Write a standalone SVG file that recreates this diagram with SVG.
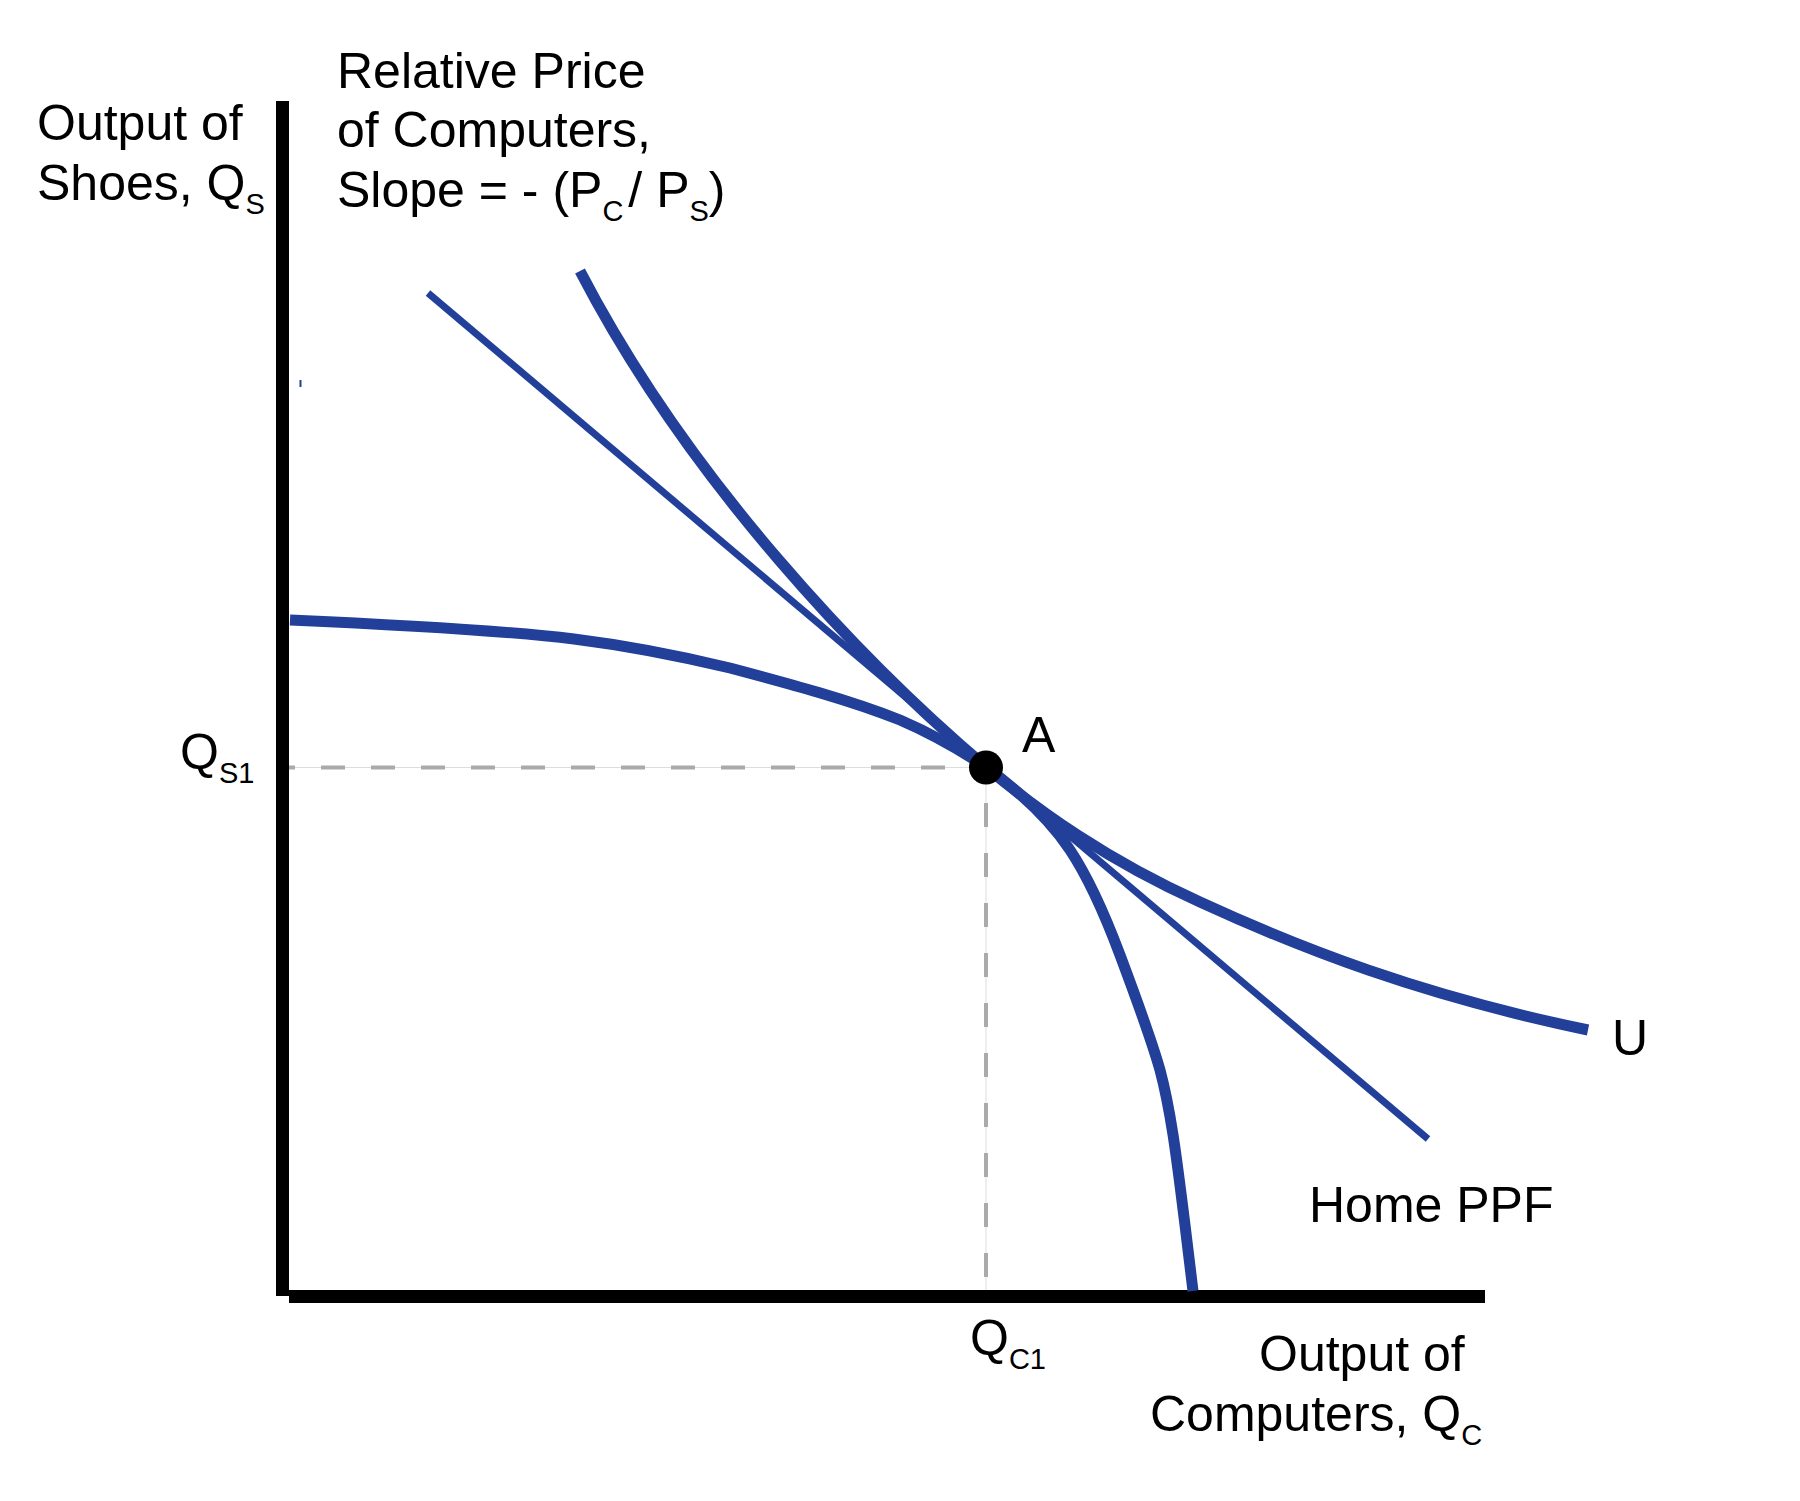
<svg xmlns="http://www.w3.org/2000/svg" width="1800" height="1501" viewBox="0 0 1800 1501">
<style>
text{font-family:"Liberation Sans",Arial,Helvetica,sans-serif;font-size:50px;fill:#000}
.sub{font-size:29px}
.curve{fill:none;stroke:#223f99;stroke-linecap:butt;stroke-linejoin:round}
.thick{stroke-width:11}
.thin{stroke-width:7}
.guide{fill:none;stroke:#dddddd;stroke-width:1}
.dash{fill:none;stroke:#aaaaaa;stroke-width:4;stroke-dasharray:24 26}
</style>
<rect width="1800" height="1501" fill="#ffffff"/>
<g id="axes">
<rect x="276" y="101" width="13" height="1195" fill="#000"/>
<rect x="289" y="1290" width="1196" height="13" fill="#000"/>
<rect x="299.5" y="380" width="2" height="7" fill="#223f99"/>
</g>
<g id="guides">
<line class="guide" x1="289" y1="767.5" x2="986" y2="767.5"/>
<line class="guide" x1="986" y1="767.5" x2="986" y2="1290"/>
<line class="dash" x1="289" y1="767.5" x2="986" y2="767.5" stroke-dashoffset="18"/>
<line class="dash" x1="986" y1="803" x2="986" y2="1290"/>
</g>
<g id="connectors">
<path id="ppf" class="curve thick" d="M290,620 C380,624 500,630 574,639 C630,646 680,656 730,668 C790,684 850,700 900,720 C935,735 960,750 986,767 C1020,792 1050,820 1070,850 C1090,880 1105,915 1120,955 C1135,995 1150,1035 1160,1070 C1172,1115 1178,1170 1185,1225 L1193,1291"/>
<path id="tangent" class="curve thin" d="M428,293 L1428,1139"/>
<path id="indiff" class="curve thick" d="M580,271 C690,483 866,665.5 986,767 C1040,812 1107,860 1200,902 C1300,948 1420,995 1588,1030"/>
</g>
<g id="pointA">
<circle cx="986" cy="767.5" r="17" fill="#000"/>
</g>
<g id="labels">
<text x="37" y="140">Output of</text>
<text x="37" y="200">Shoes, Q<tspan class="sub" dy="14">S</tspan></text>
<text x="337" y="88">Relative Price</text>
<text x="337" y="147">of Computers,</text>
<text x="337" y="207">Slope = - (P<tspan class="sub" dy="14">C</tspan><tspan dx="5" dy="-14">/ P</tspan><tspan class="sub" dy="14">S</tspan><tspan dy="-14">)</tspan></text>
<text x="1022" y="752">A</text>
<text x="1612" y="1055">U</text>
<text x="1309" y="1222">Home PPF</text>
<text x="180" y="769">Q<tspan class="sub" dy="14">S1</tspan></text>
<text x="970" y="1355">Q<tspan class="sub" dy="14">C1</tspan></text>
<text x="1259" y="1371">Output of</text>
<text x="1150" y="1431">Computers, Q<tspan class="sub" dy="14">C</tspan></text>
</g>
</svg>
